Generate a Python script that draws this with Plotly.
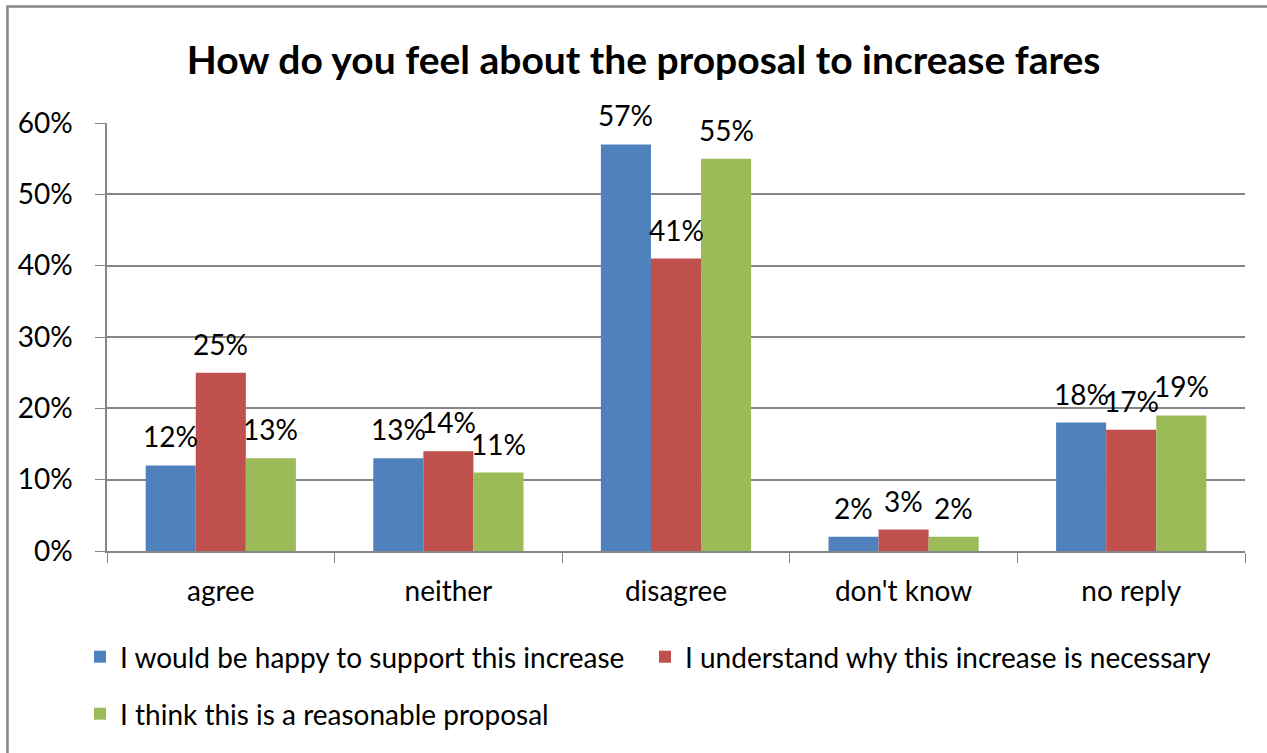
import plotly.graph_objects as go

categories = ["agree", "neither", "disagree", "don't know", "no reply"]
series_names = [
    "I would be happy to support this increase",
    "I understand why this increase is necessary",
    "I think this is a reasonable proposal",
]
happy_to_support = [0.12, 0.13, 0.57, 0.02, 0.18]
understand_why = [0.25, 0.14, 0.41, 0.03, 0.17]
reasonable_proposal = [0.13, 0.11, 0.55, 0.02, 0.19]
y_ticks = [0, 0.1, 0.2, 0.3, 0.4, 0.5, 0.6]
y_tick_labels = ["0%", "10%", "20%", "30%", "40%", "50%", "60%"]

colors = ["#4F81BD", "#C0504D", "#9BBB59"]
series_values = [happy_to_support, understand_why, reasonable_proposal]

W, H = 1267, 753
ML, MR, MT, MB = 107, 22, 123, 202
BARGAP = 0.34
FONT = "Lato"
TXT = 28
plot_w = W - ML - MR
plot_h = H - MT - MB
bar_px = plot_w / len(categories) * (1 - BARGAP) / len(series_values)

fig = go.Figure()
for i, (name, vals, col) in enumerate(zip(series_names, series_values, colors)):
    fig.add_trace(go.Bar(
        x=categories, y=vals, name=name,
        marker=dict(color=col, line=dict(width=0)),
        legend="legend" if i < 2 else "legend2",
    ))
    # value labels above each bar
    for cat, v in zip(categories, vals):
        fig.add_annotation(
            x=cat, y=v, text=f"{round(v * 100)}%", showarrow=False,
            xshift=(i - 1) * bar_px, yshift=10, yanchor="bottom",
            font=dict(family=FONT, size=TXT, color="#000000"),
        )

# chart frame (top and left edges visible)
def px_x(p):
    return (p - ML) / plot_w

def px_y(p):
    return (H - MB - p) / plot_h

fig.add_shape(type="rect", xref="paper", yref="paper",
              x0=px_x(7.5), x1=px_x(1300), y0=px_y(800), y1=px_y(6.5),
              line=dict(color="#868686", width=2.5), fillcolor="rgba(0,0,0,0)",
              layer="below")

fig.update_layout(
    width=W, height=H,
    margin=dict(l=ML, r=MR, t=MT, b=MB),
    paper_bgcolor="white", plot_bgcolor="white",
    barmode="group", bargap=BARGAP, bargroupgap=0,
    title=dict(text="<b>How do you feel about the proposal to increase fares</b>",
               x=0.508, xanchor="center", y=1 - 60 / H, yanchor="middle",
               font=dict(family=FONT, size=39, color="#000000")),
    font=dict(family=FONT, size=TXT, color="#000000"),
    xaxis=dict(
        showline=True, linecolor="#868686", linewidth=1.5,
        ticks="outside", tickson="boundaries", ticklen=10, tickcolor="#868686",
        ticklabelstandoff=15,
        tickfont=dict(family=FONT, size=TXT, color="#000000"),
        showgrid=False,
    ),
    yaxis=dict(
        range=[0, 0.6], tickvals=y_ticks, ticktext=y_tick_labels,
        showline=True, linecolor="#868686", linewidth=1.5,
        ticks="outside", ticklen=10, tickcolor="#868686",
        ticklabelstandoff=17,
        showgrid=True, gridcolor="#868686", gridwidth=1.5,
        zeroline=False,
        tickfont=dict(family=FONT, size=TXT, color="#000000"),
    ),
    legend=dict(orientation="h", x=px_x(80), xanchor="left",
                y=px_y(657), yanchor="middle",
                entrywidth=520, entrywidthmode="pixels",
                font=dict(family=FONT, size=TXT, color="#000000"),
                bgcolor="rgba(0,0,0,0)"),
    legend2=dict(orientation="h", x=px_x(80), xanchor="left",
                 y=px_y(714), yanchor="middle",
                 font=dict(family=FONT, size=TXT, color="#000000"),
                 bgcolor="rgba(0,0,0,0)"),
)

fig.write_html("out.html")
